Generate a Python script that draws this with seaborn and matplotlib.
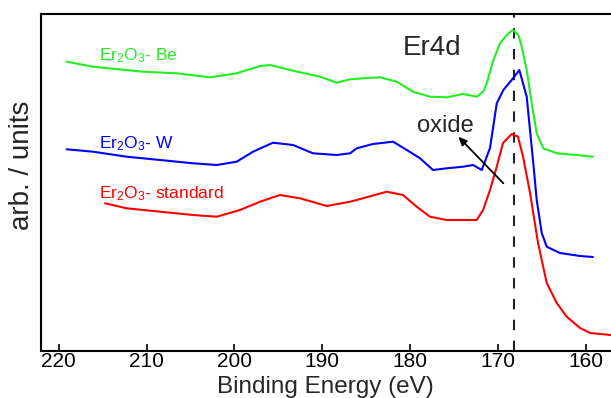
import matplotlib
matplotlib.use("Agg")
import matplotlib.pyplot as plt
import seaborn as sns
import pandas as pd

# ---- data (binding energy in eV, intensity in arbitrary units) ----
be_ev = [219.09, 216.09, 210.40, 206.56, 202.77, 199.73, 197.07, 195.93, 193.31, 190.24,
         188.34, 186.82, 185.34, 183.40, 181.50, 179.65, 177.71, 175.81, 173.95, 172.39,
         171.64, 171.25, 170.50, 169.74, 168.97, 168.29, 167.65, 167.27, 166.70, 166.13,
         165.56, 164.81, 163.28, 161.00, 159.15]
be_int = [289.3, 284.3, 279.3, 277.7, 273.7, 277.7, 285.0, 286.0, 280.3, 274.3,
          268.3, 271.7, 272.7, 273.7, 269.3, 259.3, 254.3, 253.7, 257.0, 254.3,
          259.3, 267.7, 291.0, 307.7, 316.0, 321.0, 316.0, 304.3, 281.0, 247.7,
          217.7, 202.7, 197.7, 196.0, 194.3]

w_ev = [219.09, 216.09, 212.26, 208.46, 204.70, 202.00, 199.73, 197.87, 195.59, 193.31,
        191.04, 188.34, 186.82, 186.06, 184.20, 181.92, 180.36, 178.85, 177.37, 175.81,
        173.95, 172.81, 171.82, 170.88, 170.11, 169.36, 168.41, 167.54, 166.70, 165.95,
        165.56, 164.99, 164.42, 162.91, 160.63, 159.15]
w_int = [201.7, 199.3, 194.3, 191.0, 187.7, 186.0, 189.3, 199.3, 208.3, 206.0,
         197.7, 196.0, 197.7, 202.7, 207.0, 209.3, 201.0, 192.7, 181.0, 182.7,
         184.3, 186.0, 181.0, 203.0, 247.7, 261.0, 271.0, 281.0, 254.3, 187.7,
         151.0, 118.0, 104.3, 98.0, 95.0, 94.0]

std_ev = [214.73, 212.26, 208.46, 204.70, 202.00, 199.35, 197.07, 194.80, 192.52, 189.48,
          186.82, 186.06, 182.64, 180.79, 179.23, 177.71, 175.81, 173.95, 172.39, 171.67,
          170.88, 170.11, 169.40, 168.41, 167.69, 167.12, 166.32, 165.41, 164.42, 163.28,
          162.14, 160.63, 159.49, 157.10]
std_int = [147.7, 142.7, 139.3, 136.0, 134.3, 141.0, 149.3, 156.0, 152.7, 145.0,
           149.3, 151.0, 159.3, 156.0, 144.3, 134.3, 131.0, 131.0, 131.0, 141.0,
           161.0, 184.3, 208.0, 217.0, 214.3, 194.3, 158.0, 108.0, 68.0, 48.0,
           34.3, 23.0, 18.0, 16.0]

series_names = ["Be", "W", "standard"]
series_labels = [r"Er$_2$O$_3$- Be", r"Er$_2$O$_3$- W", r"Er$_2$O$_3$- standard"]
xticks = [220, 210, 200, 190, 180, 170, 160]
oxide_peak = 168.2

# ---- style ----
sns.set_style("ticks")
plt.rcParams["font.family"] = ["Liberation Sans", "DejaVu Sans"]
plt.rcParams["mathtext.fontset"] = "custom"
plt.rcParams["mathtext.rm"] = "Liberation Sans"
plt.rcParams["mathtext.it"] = "Liberation Sans:italic"
plt.rcParams["mathtext.bf"] = "Liberation Sans:bold"

colors = {"Be": "#22ee22", "W": "#0000ff", "standard": "#ff0000"}

df = pd.concat([
    pd.DataFrame({"ev": be_ev, "intensity": be_int, "sample": "Be"}),
    pd.DataFrame({"ev": w_ev, "intensity": w_int, "sample": "W"}),
    pd.DataFrame({"ev": std_ev, "intensity": std_int, "sample": "standard"}),
], ignore_index=True)

fig = plt.figure(figsize=(6.11, 3.98), dpi=100)
ax = fig.add_axes([40.7 / 611, 47 / 398, 1 - 40.7 / 611, 337 / 398])

sns.lineplot(data=df, x="ev", y="intensity", hue="sample", hue_order=series_names,
             palette=colors, sort=False, estimator=None, linewidth=1.5, legend=False, ax=ax)

ax.axvline(oxide_peak, color="#222222", linestyle=(0, (5, 5)), linewidth=1.5, zorder=1)

ax.set_xlim(222.05, 157.1)
ax.set_ylim(0, 337)
ax.set_xticks(xticks)
ax.set_xticklabels([str(t) for t in xticks])
ax.set_yticks([])
ax.tick_params(axis="x", direction="in", length=5, width=1.2, labelsize=15, pad=1,
               colors="black")
for s in ["left", "bottom", "top"]:
    ax.spines[s].set_visible(True)
    ax.spines[s].set_linewidth(1.5)
    ax.spines[s].set_color("black")
ax.spines["right"].set_visible(False)

ax.set_xlabel("Binding Energy (eV)", fontsize=17.5, labelpad=3)
ax.set_ylabel("arb. / units", fontsize=20)
ax.yaxis.set_label_coords(-0.01, 0.55)

# series labels
label_pos = [(215.41, 290.3), (215.41, 203.0), (215.41, 152.7)]
for name, lab, (lx, ly) in zip(series_names, series_labels, label_pos):
    ax.text(lx, ly, lab, color=colors[name], fontsize=12.5, ha="left", va="baseline")

ax.text(180.82, 296, "Er4d", fontsize=20, ha="left", va="baseline")
ax.text(179.19, 219.3, "oxide", fontsize=17, ha="left", va="baseline")
ax.annotate("", xy=(174.49, 214.3), xytext=(169.36, 167.7),
            arrowprops=dict(arrowstyle="-|>,head_length=0.5,head_width=0.22",
                            color="black", lw=1.3, shrinkA=0, shrinkB=0))

fig.savefig("out.png", dpi=100)
